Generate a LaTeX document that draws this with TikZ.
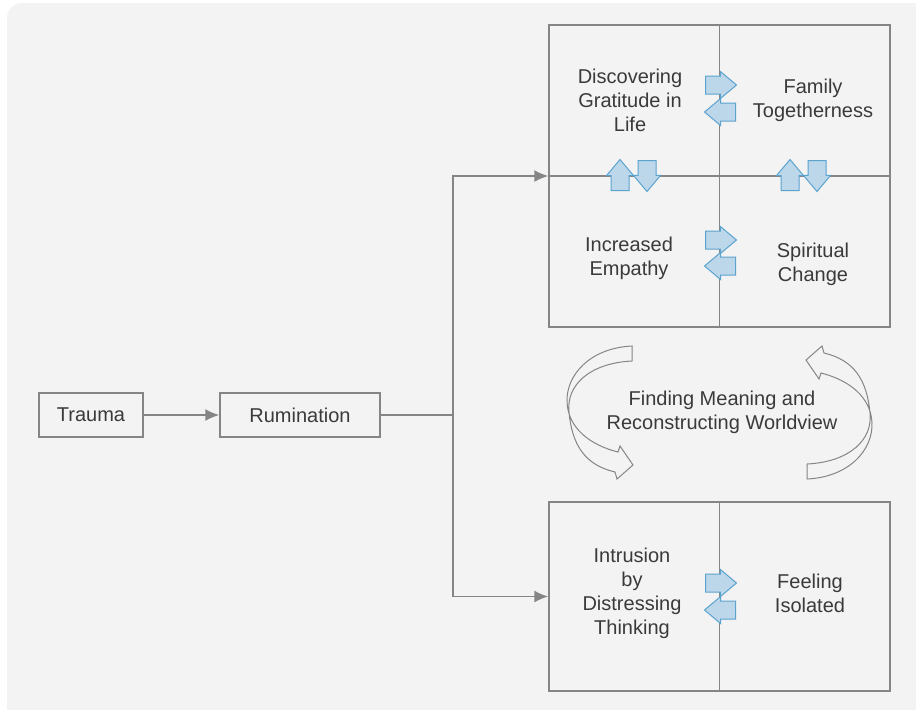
\documentclass[tikz,border=0pt]{standalone}
\usepackage{fontspec}
\setmainfont{Liberation Sans}
\usepackage{xcolor}
\usetikzlibrary{arrows.meta,shapes.arrows}
\definecolor{bgfill}{HTML}{F2F3F2}
\definecolor{linegray}{HTML}{858585}
\definecolor{txtgray}{HTML}{3A3A3A}
\definecolor{arrowfill}{HTML}{BDD7EA}
\definecolor{arrowline}{HTML}{5BA3CF}

\begin{document}
\begin{tikzpicture}[x=0.5pt, y=-0.5pt,
    every node/.style={font=\fontsize{10}{12}\selectfont, text=txtgray},
    box/.style={draw=linegray, line width=0.75pt, inner sep=0pt},
    label/.style={align=center},
    flow/.style={draw=linegray, line width=0.75pt, -{Latex[length=7pt,width=6pt]}},
    swap/.style={single arrow, draw=arrowline, fill=arrowfill, line width=0.5pt,
        minimum height=15.5pt, single arrow head extend=2.25pt,
        single arrow tip angle=80, inner xsep=0pt, inner ysep=4.25pt, anchor=tail},
    loop/.style={draw=linegray, line width=0.5pt}]
\useasboundingbox (0,0) rectangle (916,709);
\clip (0,0) rectangle (916,709);
\fill[bgfill, rounded corners=7.5pt] (7,3) rectangle (940,730);

\node[box, minimum width=52pt, minimum height=22pt] (trauma) at (91,415) {Trauma};
\node[box, minimum width=80pt, minimum height=22pt] (rumination) at (300,415) {Rumination};
\node[box, minimum width=170.5pt, minimum height=151pt] (topgrid) at (719.5,176) {};
\node[box, minimum width=170.5pt, minimum height=94.5pt] (botgrid) at (719.5,596.5) {};

% grid lines
\draw[linegray, line width=0.75pt] (topgrid.north) -- (topgrid.south);
\draw[linegray, line width=0.75pt] (topgrid.west) -- (topgrid.east);
\draw[linegray, line width=0.75pt] (botgrid.north) -- (botgrid.south);

% flow
\coordinate (split) at (453,415);
\draw[flow] (trauma) -- (rumination);
\draw[linegray, line width=0.75pt] (rumination.east) -- (split);
\draw[flow] (split) |- (topgrid.west);
\draw[flow] (split) |- (botgrid.west);

% texts
\node[label] (gratitude) at (630,100) {Discovering\\Gratitude in\\Life};
\node[label] (family) at (813,100) {Family\\Togetherness};
\node[label] (empathy) at (629,258) {Increased\\Empathy};
\node[label] (spiritual) at (813,264) {Spiritual\\Change};
\node[label] (meaning) at (722,412) {Finding Meaning and\\Reconstructing Worldview};
\node[label] (intrusion) at (632,593) {Intrusion\\by\\Distressing\\Thinking};
\node[label] (isolated) at (810,593) {Feeling\\Isolated};

% exchange arrows
\node[swap] (sw1r) at (705,85) {};
\node[swap, rotate=180] (sw1l) at (736,112) {};
\node[swap] (sw2r) at (705,240) {};
\node[swap, rotate=180] (sw2l) at (736,266) {};
\node[swap] (sw3r) at (705,583) {};
\node[swap, rotate=180] (sw3l) at (736,610) {};
\node[swap, rotate=90] (sw4u) at (620,191) {};
\node[swap, rotate=-90] (sw4d) at (647,160) {};
\node[swap, rotate=90] (sw5u) at (790,191) {};
\node[swap, rotate=-90] (sw5d) at (817,160) {};

% meaning loop arrows
\foreach \ang in {0,180}
  \draw[loop, rotate around={\ang:(719.5,412.5)}]
    (632,346) .. controls (590,348) and (566,375) .. (567,402)
    .. controls (568,428) and (590,445) .. (618,452)
    -- (620,446) -- (633,465) -- (617,479) -- (615,472)
    .. controls (585,465) and (572,445) .. (569,412)
    .. controls (566,385) and (590,363) .. (632,361) -- cycle;
\end{tikzpicture}
\end{document}
